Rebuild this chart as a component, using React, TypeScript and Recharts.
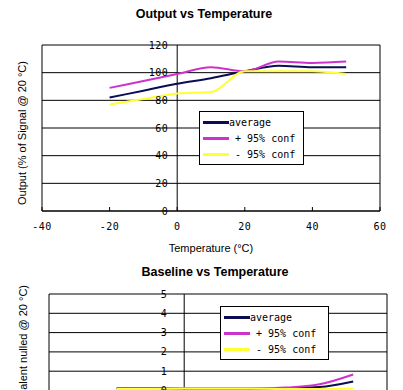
import React from 'react';
import { LineChart, Line, XAxis, YAxis, CartesianGrid, ReferenceLine, ReferenceDot } from 'recharts';

// temperatures (°C) where the curves were read
const temps = [-20, -10, 0, 10, 20, 30, 40, 50];

// Output vs Temperature (% of signal @ 20 °C)
const outputAvg = [82, 87, 92, 96, 101, 105, 104, 104];
const outputPlus = [89, 94, 99, 104, 101, 108, 107, 108];
const outputMinus = [77, 81, 85, 86, 101, 101, 101, 99];

// Baseline vs Temperature
const baseAvg = [0.1, 0.1, 0.1, 0.1, 0.1, 0.12, 0.18, 0.47];
const basePlus = [0.12, 0.12, 0.1, 0.1, 0.1, 0.15, 0.32, 0.83];
const baseMinus = [0.08, 0.08, 0.1, 0.1, 0.1, 0.08, 0.08, 0.1];

const xTicks = [-40, -20, 0, 20, 40, 60];
const outputTicks = [0, 20, 40, 60, 80, 100, 120];
const baseTicks = [-5, -4, -3, -2, -1, 0, 1, 2, 3, 4, 5];

const seriesNames = ['average', ' + 95% conf', ' - 95% conf'];
const seriesColors = ['#0c0c55', '#cc33cc', '#ffff33'];

const outputData = temps.map((t, i) => ({ t, avg: outputAvg[i], plus: outputPlus[i], minus: outputMinus[i] }));
const baseData = temps.map((t, i) => ({ t, avg: baseAvg[i], plus: basePlus[i], minus: baseMinus[i] }));

const mono = '"DejaVu Sans Mono", "Liberation Mono", monospace';
const sans = '"Liberation Sans", Arial, sans-serif';

function LegendBox({ left, top, width }: { left: number; top: number; width: number }) {
  return (
    <div
      style={{
        position: 'absolute', left, top, width, boxSizing: 'border-box',
        border: '1px solid #000', background: '#fff', padding: '2px 3px',
      }}
    >
      {seriesNames.map((name, i) => (
        <div key={name} style={{ display: 'flex', alignItems: 'center', height: 16 }}>
          <span style={{ width: 26, height: 3, background: seriesColors[i], display: 'inline-block' }} />
          <span style={{ fontFamily: mono, fontSize: 10, whiteSpace: 'pre', color: '#000' }}>{name}</span>
        </div>
      ))}
    </div>
  );
}

function Chart({ data, ticks, domain, height, margin, labelOffset }: any) {
  return (
    <LineChart width={403} height={height} data={data} margin={margin}>
      <CartesianGrid vertical={false} stroke="#000" strokeOpacity={1} horizontalValues={ticks} />
      <XAxis
        dataKey="t"
        type="number"
        domain={[-40, 60]}
        ticks={xTicks}
        interval={0}
        height={42}
        stroke="#000"
        tickSize={-4}
        tickMargin={16}
        tick={{ fill: '#000', fontSize: 10, fontFamily: mono, letterSpacing: 0.5 }}
        label={{ value: 'Temperature (°C)', position: 'insideBottom', offset: 1, fontSize: 11, fill: '#000', fontFamily: sans }}
      />
      <YAxis hide type="number" domain={domain} ticks={ticks} interval={0} />
      <ReferenceLine x={-40} stroke="#000" />
      <ReferenceLine x={60} stroke="#000" />
      <ReferenceLine x={0} stroke="#000" />
      {ticks.filter((v: number) => v >= 0).map((v: number) => (
        <ReferenceDot
          key={v}
          x={0}
          y={v}
          r={0}
          fill="none"
          stroke="none"
          label={{ value: String(v), position: 'left', offset: labelOffset, fontSize: 10, fill: '#000', fontFamily: mono, letterSpacing: 0.5 }}
        />
      ))}
      <Line type="monotone" dataKey="avg" stroke={seriesColors[0]} strokeWidth={2} dot={false} isAnimationActive={false} />
      <Line type="monotone" dataKey="plus" stroke={seriesColors[1]} strokeWidth={2} dot={false} isAnimationActive={false} />
      <Line type="monotone" dataKey="minus" stroke={seriesColors[2]} strokeWidth={2} dot={false} isAnimationActive={false} />
    </LineChart>
  );
}

export default function App() {
  return (
    <div
      style={{
        position: 'absolute', left: 0, top: 0, width: 403, height: 390,
        overflow: 'hidden', background: '#fff', fontFamily: sans,
      }}
    >
      <div style={{ position: 'absolute', left: 0, top: 7, width: 408, textAlign: 'center', fontWeight: 'bold', fontSize: 12.5 }}>
        Output vs Temperature
      </div>
      <div style={{ position: 'absolute', left: 0, top: 0 }}>
        <Chart
          data={outputData}
          ticks={outputTicks}
          domain={[0, 120]}
          height={260}
          margin={{ top: 45, right: 23, bottom: 7, left: 42 }}
          labelOffset={9}
        />
      </div>
      <div
        style={{
          position: 'absolute', left: 22, top: 133, fontSize: 11, whiteSpace: 'nowrap',
          transform: 'translate(-50%, -50%) rotate(-90deg)',
        }}
      >
        Output (% of Signal @ 20 °C)
      </div>
      <LegendBox left={199} top={111} width={105} />

      <div style={{ position: 'absolute', left: 0, top: 265, width: 430, textAlign: 'center', fontWeight: 'bold', fontSize: 12.5 }}>
        Baseline vs Temperature
      </div>
      <div style={{ position: 'absolute', left: 0, top: 250 }}>
        <Chart
          data={baseData}
          ticks={baseTicks}
          domain={[-5, 5]}
          height={286}
          margin={{ top: 44, right: 16, bottom: 7, left: 49 }}
          labelOffset={17}
        />
      </div>
      <div
        style={{
          position: 'absolute', left: 17, top: 285 + 300, width: 300, height: 13, fontSize: 11,
          textAlign: 'right', whiteSpace: 'nowrap', transform: 'rotate(-90deg)', transformOrigin: '0 0',
        }}
      >
        Baseline (ppm equivalent nulled @ 20 °C)
      </div>
      <LegendBox left={220} top={306} width={109} />
    </div>
  );
}
